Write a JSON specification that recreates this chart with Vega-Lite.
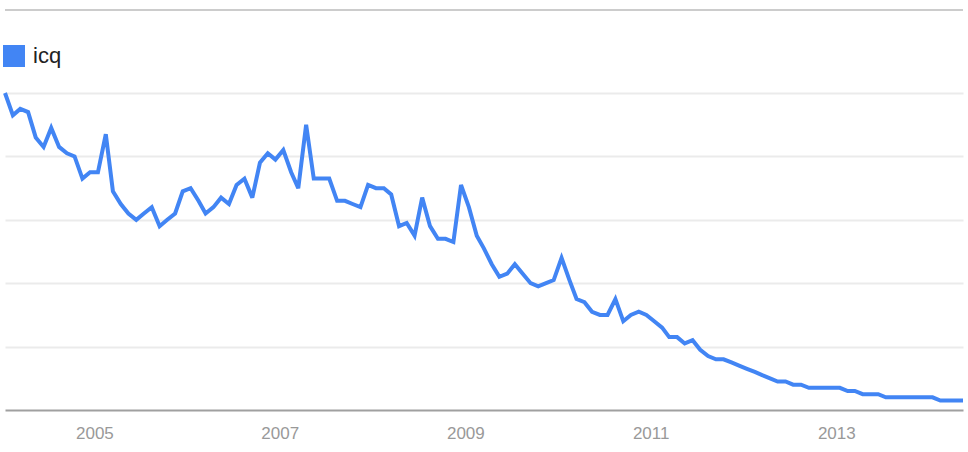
{
  "$schema": "https://vega.github.io/schema/vega-lite/v6.json",
  "width": 958,
  "height": 400,
  "autosize": "none",
  "padding": {"left": 5, "top": 10, "right": 5, "bottom": 42},
  "background": "white",
  "config": {"view": {"stroke": null}, "font": "Liberation Sans"},
  "data": {"values": [
    {"date": "2004-01-15", "v": 100}, {"date": "2004-02-15", "v": 93}, {"date": "2004-03-15", "v": 95}, {"date": "2004-04-15", "v": 94},
    {"date": "2004-05-15", "v": 86}, {"date": "2004-06-15", "v": 83}, {"date": "2004-07-15", "v": 89}, {"date": "2004-08-15", "v": 83},
    {"date": "2004-09-15", "v": 81}, {"date": "2004-10-15", "v": 80}, {"date": "2004-11-15", "v": 73}, {"date": "2004-12-15", "v": 75},
    {"date": "2005-01-15", "v": 75}, {"date": "2005-02-15", "v": 87}, {"date": "2005-03-15", "v": 69}, {"date": "2005-04-15", "v": 65},
    {"date": "2005-05-15", "v": 62}, {"date": "2005-06-15", "v": 60}, {"date": "2005-07-15", "v": 62}, {"date": "2005-08-15", "v": 64},
    {"date": "2005-09-15", "v": 58}, {"date": "2005-10-15", "v": 60}, {"date": "2005-11-15", "v": 62}, {"date": "2005-12-15", "v": 69},
    {"date": "2006-01-15", "v": 70}, {"date": "2006-02-15", "v": 66}, {"date": "2006-03-15", "v": 62}, {"date": "2006-04-15", "v": 64},
    {"date": "2006-05-15", "v": 67}, {"date": "2006-06-15", "v": 65}, {"date": "2006-07-15", "v": 71}, {"date": "2006-08-15", "v": 73},
    {"date": "2006-09-15", "v": 67}, {"date": "2006-10-15", "v": 78}, {"date": "2006-11-15", "v": 81}, {"date": "2006-12-15", "v": 79},
    {"date": "2007-01-15", "v": 82}, {"date": "2007-02-15", "v": 75}, {"date": "2007-03-15", "v": 70}, {"date": "2007-04-15", "v": 90},
    {"date": "2007-05-15", "v": 73}, {"date": "2007-06-15", "v": 73}, {"date": "2007-07-15", "v": 73}, {"date": "2007-08-15", "v": 66},
    {"date": "2007-09-15", "v": 66}, {"date": "2007-10-15", "v": 65}, {"date": "2007-11-15", "v": 64}, {"date": "2007-12-15", "v": 71},
    {"date": "2008-01-15", "v": 70}, {"date": "2008-02-15", "v": 70}, {"date": "2008-03-15", "v": 68}, {"date": "2008-04-15", "v": 58},
    {"date": "2008-05-15", "v": 59}, {"date": "2008-06-15", "v": 55}, {"date": "2008-07-15", "v": 67}, {"date": "2008-08-15", "v": 58},
    {"date": "2008-09-15", "v": 54}, {"date": "2008-10-15", "v": 54}, {"date": "2008-11-15", "v": 53}, {"date": "2008-12-15", "v": 71},
    {"date": "2009-01-15", "v": 64}, {"date": "2009-02-15", "v": 55}, {"date": "2009-03-15", "v": 51}, {"date": "2009-04-15", "v": 46},
    {"date": "2009-05-15", "v": 42}, {"date": "2009-06-15", "v": 43}, {"date": "2009-07-15", "v": 46}, {"date": "2009-08-15", "v": 43},
    {"date": "2009-09-15", "v": 40}, {"date": "2009-10-15", "v": 39}, {"date": "2009-11-15", "v": 40}, {"date": "2009-12-15", "v": 41},
    {"date": "2010-01-15", "v": 48}, {"date": "2010-02-15", "v": 41}, {"date": "2010-03-15", "v": 35}, {"date": "2010-04-15", "v": 34},
    {"date": "2010-05-15", "v": 31}, {"date": "2010-06-15", "v": 30}, {"date": "2010-07-15", "v": 30}, {"date": "2010-08-15", "v": 35},
    {"date": "2010-09-15", "v": 28}, {"date": "2010-10-15", "v": 30}, {"date": "2010-11-15", "v": 31}, {"date": "2010-12-15", "v": 30},
    {"date": "2011-01-15", "v": 28}, {"date": "2011-02-15", "v": 26}, {"date": "2011-03-15", "v": 23}, {"date": "2011-04-15", "v": 23},
    {"date": "2011-05-15", "v": 21}, {"date": "2011-06-15", "v": 22}, {"date": "2011-07-15", "v": 19}, {"date": "2011-08-15", "v": 17},
    {"date": "2011-09-15", "v": 16}, {"date": "2011-10-15", "v": 16}, {"date": "2011-11-15", "v": 15}, {"date": "2011-12-15", "v": 14},
    {"date": "2012-01-15", "v": 13}, {"date": "2012-02-15", "v": 12}, {"date": "2012-03-15", "v": 11}, {"date": "2012-04-15", "v": 10},
    {"date": "2012-05-15", "v": 9}, {"date": "2012-06-15", "v": 9}, {"date": "2012-07-15", "v": 8}, {"date": "2012-08-15", "v": 8},
    {"date": "2012-09-15", "v": 7}, {"date": "2012-10-15", "v": 7}, {"date": "2012-11-15", "v": 7}, {"date": "2012-12-15", "v": 7},
    {"date": "2013-01-15", "v": 7}, {"date": "2013-02-15", "v": 6}, {"date": "2013-03-15", "v": 6}, {"date": "2013-04-15", "v": 5},
    {"date": "2013-05-15", "v": 5}, {"date": "2013-06-15", "v": 5}, {"date": "2013-07-15", "v": 4}, {"date": "2013-08-15", "v": 4},
    {"date": "2013-09-15", "v": 4}, {"date": "2013-10-15", "v": 4}, {"date": "2013-11-15", "v": 4}, {"date": "2013-12-15", "v": 4},
    {"date": "2014-01-15", "v": 4}, {"date": "2014-02-15", "v": 3}, {"date": "2014-03-15", "v": 3}, {"date": "2014-04-15", "v": 3},
    {"date": "2014-05-15", "v": 3}
  ]},
  "resolve": {"axis": {"y": "independent"}},
  "layer": [
    {
      "mark": {"type": "line", "strokeWidth": 4, "strokeJoin": "miter", "strokeMiterLimit": 3, "interpolate": "linear"},
      "encoding": {
        "x": {
          "field": "date", "type": "temporal",
          "scale": {"domain": ["2004-01-15", "2014-05-15"]},
          "axis": {
            "title": null, "grid": false, "ticks": false,
            "domainColor": "#a0a0a0", "domainWidth": 2,
            "values": [{"year": 2005, "month": 1, "date": 1}, {"year": 2007, "month": 1, "date": 1}, {"year": 2009, "month": 1, "date": 1}, {"year": 2011, "month": 1, "date": 1}, {"year": 2013, "month": 1, "date": 1}],
            "format": "%Y",
            "labelColor": "#999999", "labelFontSize": 17, "labelPadding": 15,
            "labelFont": "Liberation Sans"
          }
        },
        "y": {
          "field": "v", "type": "quantitative",
          "scale": {"domain": [0, 126.2], "nice": false, "zero": true},
          "axis": {
            "title": null, "labels": false, "ticks": false, "domain": false,
            "grid": true,
            "values": [20, 40, 60, 80, 100],
            "gridColor": "#ebebeb", "gridWidth": 2, "gridOpacity": 1
          }
        },
        "color": {
          "datum": "icq",
          "scale": {"range": ["#4285f4"]},
          "legend": {
            "title": null, "orient": "none", "legendX": -2, "legendY": 35,
            "symbolType": "square", "symbolSize": 484, "symbolStrokeWidth": 0,
            "symbolFillColor": "#4285f4", "symbolOpacity": 1,
            "labelFontSize": 22, "labelColor": "#222222", "labelOffset": 8,
            "labelFont": "Liberation Sans", "padding": 0
          }
        }
      }
    },
    {
      "mark": {"type": "rule", "color": "#cccccc", "strokeWidth": 2},
      "encoding": {"y": {"datum": 126.2, "type": "quantitative", "axis": null}}
    }
  ]
}
